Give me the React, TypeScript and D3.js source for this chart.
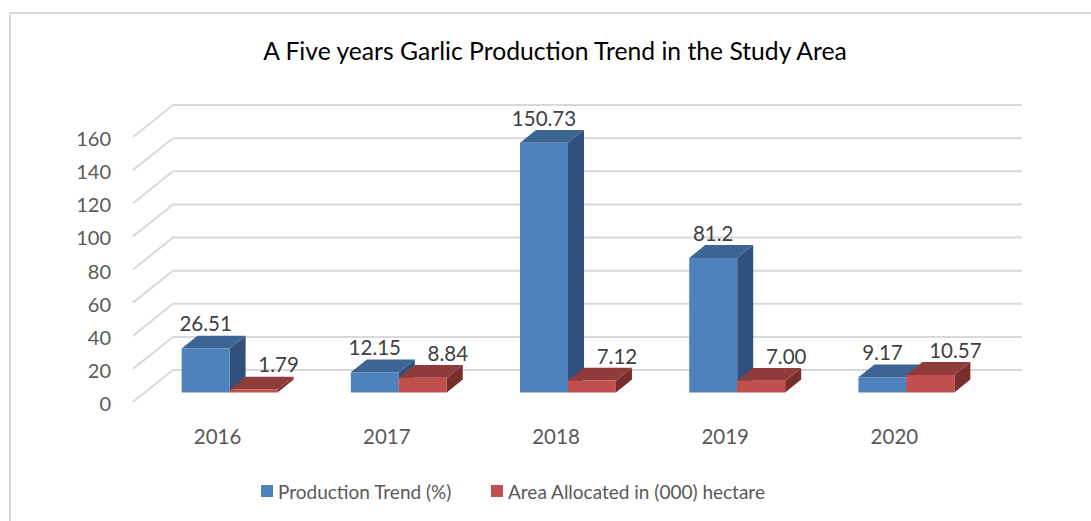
import React from "react";
import * as d3 from "d3";

const years = ["2016", "2017", "2018", "2019", "2020"];
const production = [26.51, 12.15, 150.73, 81.2, 9.17];
const area = [1.79, 8.84, 7.12, 7.0, 10.57];
const productionLabels = ["26.51", "12.15", "150.73", "81.2", "9.17"];
const areaLabels = ["1.79", "8.84", "7.12", "7.00", "10.57"];
const seriesNames = ["Production Trend (%)", "Area Allocated in (000) hectare"];
const yTicks = [0, 20, 40, 60, 80, 100, 120, 140, 160];

const W = 1091;
const H = 521;
// depth of the 3d box
const DX = 40;
const DY = -32;
const Z0 = 0.3;
const Z1 = 0.7;

const colors = [
  { front: "#4F81BD", top: "#3D6594", side: "#30507D" },
  { front: "#C0504D", top: "#8F3B39", side: "#7A2E2C" },
];

const App = () => {
  const x0 = d3
    .scaleBand<string>()
    .domain(years)
    .range([133, 979])
    .paddingInner(0.433)
    .paddingOuter(0.2165);
  const x1 = d3.scaleBand<number>().domain([0, 1]).range([0, x0.bandwidth()]);
  const y = d3.scaleLinear().domain([0, 160]).range([402, 137]);

  const px = (x: number, z: number) => x + DX * z;
  const py = (v: number, z: number) => y(v) + DY * z;

  const series = [production, area];
  const labels = [productionLabels, areaLabels];
  const font = "Lato, sans-serif";

  return (
    <svg width={W} height={H} style={{ position: "absolute", left: 0, top: 0 }} fontFamily={font}>
      <rect x={0} y={0} width={W} height={H} fill="#fff" />
      <rect x={10} y={13} width={W + 10} height={H + 10} fill="none" stroke="#D9D9D9" strokeWidth={2} />
      <text x={555} y={50} textAnchor="middle" dominantBaseline="central" fontSize={24.7} fill="#000">
        A Five years Garlic Production Trend in the Study Area
      </text>

      {/* gridlines: side wall diagonal + back wall */}
      {yTicks.map((t) => (
        <polyline
          key={t}
          points={`${px(133, 0)},${py(t, 0)} ${px(133, 1)},${py(t, 1)} ${px(982, 1)},${py(t, 1)}`}
          fill="none"
          stroke="#D9D9D9"
          strokeWidth={2}
        />
      ))}
      {yTicks.map((t) => (
        <text key={t} x={111} y={y(t) + 1} textAnchor="end" dominantBaseline="central" fontSize={20} fill="#595959">
          {t}
        </text>
      ))}

      {years.map((yr, i) => (
        <g key={yr}>
          {series.map((vals, s) => {
            const v = vals[i];
            const xl = x0(yr)! + x1(s)!;
            const xr = xl + x1.bandwidth();
            const c = colors[s];
            const front = `${px(xl, Z0)},${py(0, Z0)} ${px(xr, Z0)},${py(0, Z0)} ${px(xr, Z0)},${py(v, Z0)} ${px(xl, Z0)},${py(v, Z0)}`;
            const top = `${px(xl, Z0)},${py(v, Z0)} ${px(xr, Z0)},${py(v, Z0)} ${px(xr, Z1)},${py(v, Z1)} ${px(xl, Z1)},${py(v, Z1)}`;
            const side = `${px(xr, Z0)},${py(0, Z0)} ${px(xr, Z1)},${py(0, Z1)} ${px(xr, Z1)},${py(v, Z1)} ${px(xr, Z0)},${py(v, Z0)}`;
            return (
              <g key={s}>
                <polygon points={side} fill={c.side} />
                <polygon points={top} fill={c.top} />
                <polygon points={front} fill={c.front} />
              </g>
            );
          })}
          {series.map((vals, s) => {
            const xl = x0(yr)! + x1(s)!;
            const cx = px(xl + x1.bandwidth() / 2, Z0) + (s === 1 ? 25 : 0);
            return (
              <text key={s} x={cx} y={py(vals[i], Z0) - 25} textAnchor="middle" dominantBaseline="central"
                fontSize={20.5} fill="#404040">
                {labels[s][i]}
              </text>
            );
          })}
          <text x={x0(yr)! + x0.bandwidth() / 2} y={436} textAnchor="middle" dominantBaseline="central"
            fontSize={20.5} fill="#595959">
            {yr}
          </text>
        </g>
      ))}

      {/* legend */}
      {seriesNames.map((n, s) => {
        const lx = s === 0 ? 261 : 491;
        return (
          <g key={n}>
            <rect x={lx} y={485} width={12} height={12} fill={colors[s].front} />
            <text x={lx + 17} y={491} dominantBaseline="central" fontSize={19} fill="#595959">
              {n}
            </text>
          </g>
        );
      })}
    </svg>
  );
};

export default App;
